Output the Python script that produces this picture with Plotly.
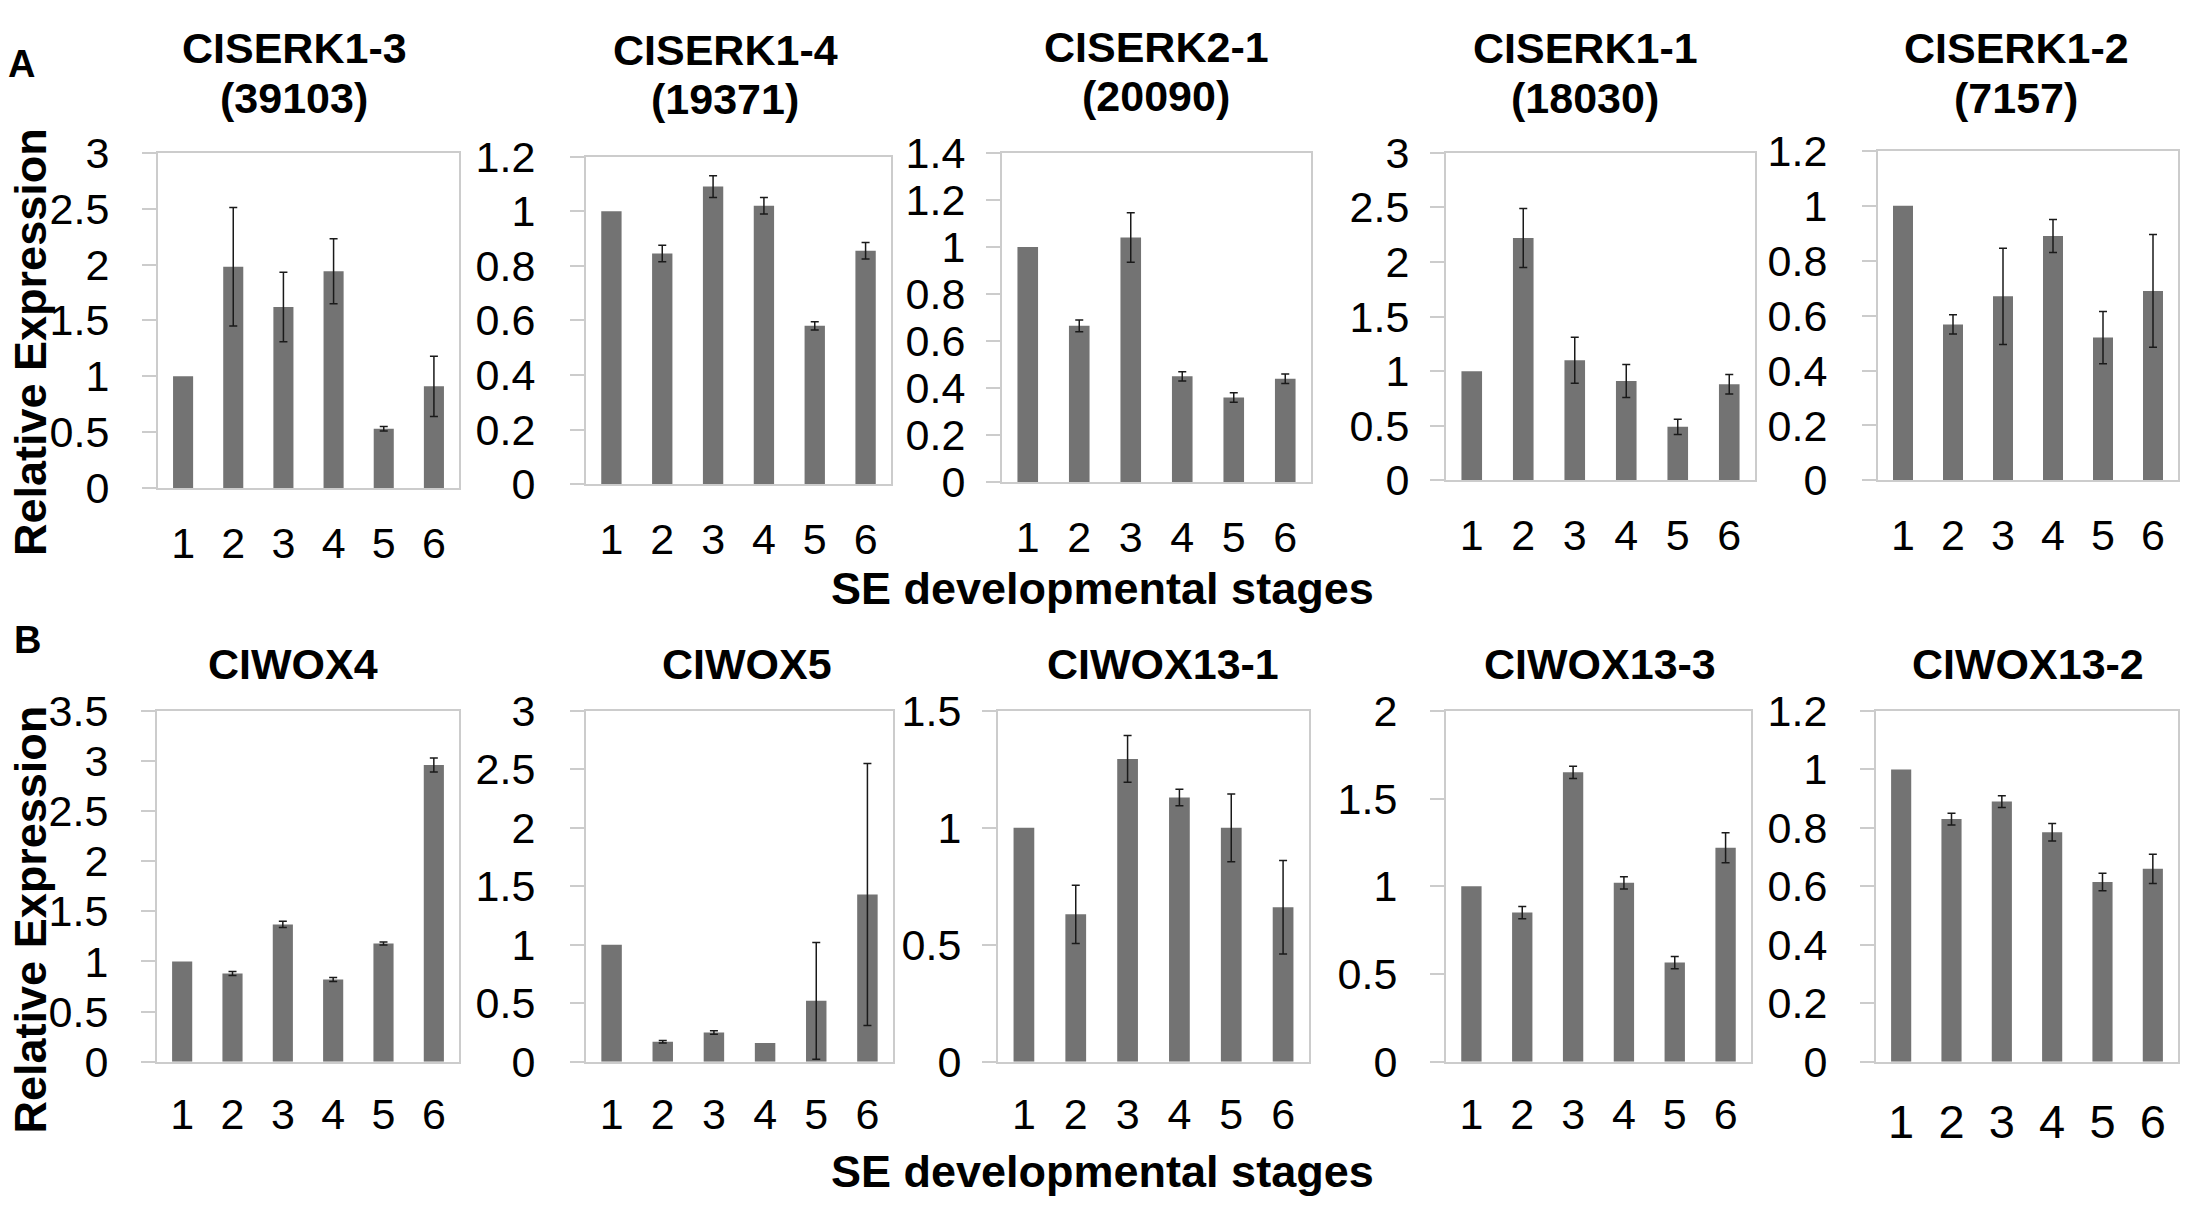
import plotly.graph_objects as go

W, H = 2186, 1224
FONT = "Liberation Sans, Arial, sans-serif"
BAR_COLOR = "#737373"
FRAME = "#cccccc"

stages = ["1", "2", "3", "4", "5", "6"]

# Row A
titles_a = ["CISERK1-3", "CISERK1-4", "CISERK2-1", "CISERK1-1", "CISERK1-2"]
ids_a = ["(39103)", "(19371)", "(20090)", "(18030)", "(7157)"]
serk13 = [1.00, 1.98, 1.62, 1.94, 0.53, 0.91]
serk13_err = [0, 0.53, 0.31, 0.29, 0.02, 0.27]
serk14 = [1.00, 0.845, 1.09, 1.02, 0.58, 0.855]
serk14_err = [0, 0.03, 0.04, 0.03, 0.015, 0.03]
serk21 = [1.00, 0.665, 1.04, 0.45, 0.36, 0.44]
serk21_err = [0, 0.025, 0.105, 0.02, 0.02, 0.02]
serk11 = [1.00, 2.22, 1.10, 0.91, 0.49, 0.88]
serk11_err = [0, 0.27, 0.21, 0.15, 0.07, 0.09]
serk12 = [1.00, 0.568, 0.67, 0.89, 0.52, 0.69]
serk12_err = [0, 0.035, 0.175, 0.06, 0.095, 0.205]

# Row B
titles_b = ["CIWOX4", "CIWOX5", "CIWOX13-1", "CIWOX13-3", "CIWOX13-2"]
wox4 = [1.00, 0.88, 1.37, 0.82, 1.18, 2.96]
wox4_err = [0, 0.02, 0.03, 0.02, 0.015, 0.07]
wox5 = [1.00, 0.17, 0.25, 0.16, 0.52, 1.43]
wox5_err = [0, 0.01, 0.015, 0, 0.50, 1.12]
wox131 = [1.00, 0.63, 1.295, 1.13, 1.00, 0.66]
wox131_err = [0, 0.125, 0.10, 0.035, 0.145, 0.20]
wox133 = [1.00, 0.85, 1.65, 1.02, 0.565, 1.22]
wox133_err = [0, 0.035, 0.035, 0.035, 0.035, 0.085]
wox132 = [1.00, 0.83, 0.89, 0.785, 0.615, 0.66]
wox132_err = [0, 0.02, 0.02, 0.03, 0.03, 0.05]

values = [serk13, serk14, serk21, serk11, serk12, wox4, wox5, wox131, wox133, wox132]
errors = [serk13_err, serk14_err, serk21_err, serk11_err, serk12_err,
          wox4_err, wox5_err, wox131_err, wox133_err, wox132_err]
y_max = [3, 1.2, 1.4, 3, 1.2, 3.5, 3, 1.5, 2, 1.2]
y_step = [0.5, 0.2, 0.2, 0.5, 0.2, 0.5, 0.5, 0.5, 0.5, 0.2]

y_label = "Relative Expression"
x_label = "SE developmental stages"

# panel frames in pixels: (left, right, top, bottom)
frames = [
    (158, 459, 134, 483), (586, 891, 138, 479), (1002, 1311, 134, 477),
    (1446, 1755, 134, 475), (1878, 2178, 132, 475),
    (157, 459, 715, 1080), (586, 893, 715, 1080), (998, 1309, 715, 1080),
    (1446, 1751, 715, 1080), (1876, 2178, 715, 1080),
]
y_standoff = [24, 26, 12, 12, 26, 24, 26, 12, 24, 24]
x_font = [43, 43, 43, 43, 43, 43, 43, 43, 43, 47]
x_standoff = [16, 16, 16, 16, 16, 14, 14, 14, 14, 18]

fig = go.Figure()
layout = dict()
for i in range(10):
    n = i + 1
    l, r, t, b = frames[i]
    xs = "" if n == 1 else str(n)
    fig.add_trace(go.Bar(
        x=stages, y=values[i],
        marker=dict(color=BAR_COLOR, line=dict(width=0)),
        xaxis="x" + xs, yaxis="y" + xs, showlegend=False, hoverinfo="x+y",
    ))
    ex = [s for s, e in zip(stages, errors[i]) if e > 0]
    ey = [v for v, e in zip(values[i], errors[i]) if e > 0]
    ee = [e for e in errors[i] if e > 0]
    fig.add_trace(go.Scatter(
        x=ex, y=ey, mode="markers", marker=dict(size=1, color="rgba(0,0,0,0)"),
        error_y=dict(type="data", array=ee, visible=True,
                     color="#1a1a1a", thickness=1.5, width=4),
        xaxis="x" + xs, yaxis="y" + xs, showlegend=False, hoverinfo="skip",
    ))
    layout["xaxis" + xs] = dict(
        domain=[l / W, r / W], anchor="y" + xs,
        showline=True, mirror=True, linecolor=FRAME, linewidth=2,
        ticks="", showgrid=False, ticklabelstandoff=x_standoff[i],
        tickmode="array", tickvals=stages, ticktext=stages,
        tickfont=dict(family=FONT, size=x_font[i], color="black"),
        type="category", range=[-0.5, 5.5], fixedrange=True,
    )
    ticks_y = []
    v = 0.0
    while v <= y_max[i] + 1e-9:
        ticks_y.append(round(v, 2))
        v += y_step[i]
    layout["yaxis" + xs] = dict(
        domain=[1 - b / H, 1 - t / H], anchor="x" + xs,
        range=[0, y_max[i]], tickmode="array", tickvals=ticks_y,
        ticktext=[("%g" % tv) for tv in ticks_y],
        showline=True, mirror=True, linecolor=FRAME, linewidth=2,
        ticks="outside", ticklen=14, tickcolor=FRAME, tickwidth=2,
        showgrid=False, zeroline=False, ticklabelstandoff=y_standoff[i],
        tickfont=dict(family=FONT, size=43, color="black"),
        fixedrange=True,
    )

ann = []
title_x_a = [294, 725, 1156, 1585, 2016]
title_y1_a = [25, 27, 24, 25, 25]
title_y2_a = [77, 78, 75, 77, 77]
title_x_b = [293, 747, 1163, 1600, 2028]
for k in range(5):
    ann.append(dict(text="<b>%s</b>" % titles_a[k], x=title_x_a[k] / W, y=1 - title_y1_a[k] / H,
                    xref="paper", yref="paper", showarrow=False,
                    font=dict(family=FONT, size=43, color="black"),
                    xanchor="center", yanchor="middle"))
    ann.append(dict(text="<b>%s</b>" % ids_a[k], x=title_x_a[k] / W, y=1 - title_y2_a[k] / H,
                    xref="paper", yref="paper", showarrow=False,
                    font=dict(family=FONT, size=43, color="black"),
                    xanchor="center", yanchor="middle"))
    ann.append(dict(text="<b>%s</b>" % titles_b[k], x=title_x_b[k] / W, y=1 - 666 / H,
                    xref="paper", yref="paper", showarrow=False,
                    font=dict(family=FONT, size=43, color="black"),
                    xanchor="center", yanchor="middle"))

for (txt, x, y) in [("A", 21, 42), ("B", 27, 641)]:
    ann.append(dict(text="<b>%s</b>" % txt, x=x / W, y=1 - y / H, xref="paper", yref="paper",
                    showarrow=False, font=dict(family=FONT, size=38, color="black"),
                    xanchor="center", yanchor="middle"))

for y in [331, 932]:
    ann.append(dict(text="<b>%s</b>" % y_label, x=30 / W, y=1 - y / H, xref="paper", yref="paper",
                    showarrow=False, textangle=-90,
                    font=dict(family=FONT, size=45, color="black"),
                    xanchor="center", yanchor="middle"))
for y in [588, 1194]:
    ann.append(dict(text="<b>%s</b>" % x_label, x=1102 / W, y=1 - y / H, xref="paper", yref="paper",
                    showarrow=False, font=dict(family=FONT, size=45, color="black"),
                    xanchor="center", yanchor="middle"))

fig.update_layout(
    width=W, height=H, margin=dict(l=0, r=0, t=0, b=0),
    paper_bgcolor="white", plot_bgcolor="white",
    bargap=0.6, annotations=ann, showlegend=False, **layout,
)

fig.write_html("out.html", config={"displayModeBar": False},
               post_script="document.body.style.margin='0';document.body.style.overflow='hidden';")
